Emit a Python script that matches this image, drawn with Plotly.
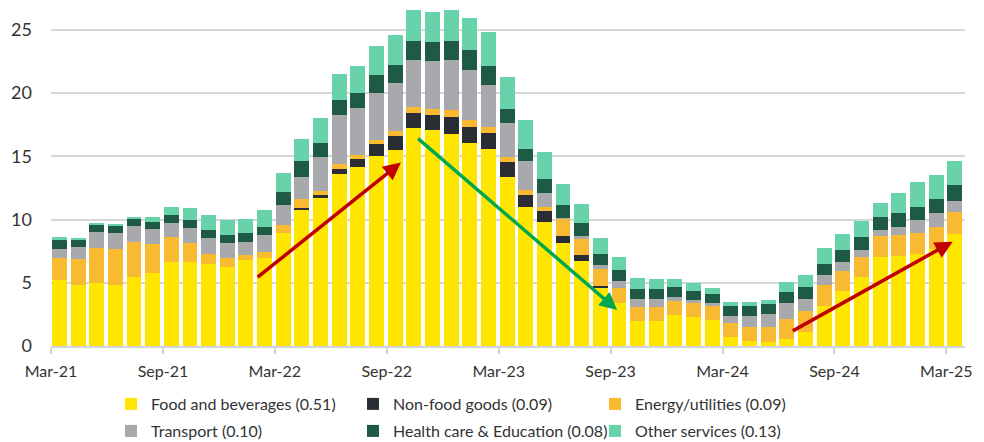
import plotly.graph_objects as go

months = ["Mar-21","Apr-21","May-21","Jun-21","Jul-21","Aug-21","Sep-21","Oct-21","Nov-21","Dec-21","Jan-22","Feb-22",
          "Mar-22","Apr-22","May-22","Jun-22","Jul-22","Aug-22","Sep-22","Oct-22","Nov-22","Dec-22","Jan-23","Feb-23",
          "Mar-23","Apr-23","May-23","Jun-23","Jul-23","Aug-23","Sep-23","Oct-23","Nov-23","Dec-23","Jan-24","Feb-24",
          "Mar-24","Apr-24","May-24","Jun-24","Jul-24","Aug-24","Sep-24","Oct-24","Nov-24","Dec-24","Jan-25","Feb-25","Mar-25"]

food = [5.22,4.80,4.95,4.80,5.43,5.80,6.67,6.61,6.48,6.22,6.80,6.93,
        8.96,10.80,11.67,13.62,14.17,15.04,15.49,17.26,17.05,16.78,16.07,15.55,
        13.33,10.96,9.83,8.17,6.74,4.56,3.37,1.98,1.98,2.45,2.32,2.06,
        0.74,0.42,0.34,0.55,1.11,3.19,4.35,5.45,7.06,7.11,7.27,7.70,8.85]
nonfood = [-0.08,-0.08,-0.08,-0.08,0,0,0,-0.08,0,0,-0.08,-0.08,
           0,0.13,0.29,0.37,0.58,0.90,1.11,1.18,1.24,1.32,1.27,1.31,
           1.22,0.98,0.87,0.55,0.45,0.21,0,-0.06,-0.06,-0.06,-0.06,-0.06,
           -0.06,-0.06,-0.06,-0.06,-0.06,-0.06,-0.06,-0.06,-0.06,-0.06,-0.06,-0.06,-0.06]
energy = [1.71,2.05,2.77,2.84,2.79,2.26,1.92,1.51,0.79,0.76,0.39,0.52,
          0.60,0.69,0.27,0.37,0.32,0.32,0.37,0.48,0.47,0.53,0.51,0.45,
          0.41,0.39,0.31,1.37,1.24,1.29,1.21,1.10,1.13,1.11,1.11,1.10,
          1.10,1.08,1.14,1.58,1.63,1.61,1.58,1.59,1.61,1.66,1.63,1.73,1.72]
transport = [0.76,1.00,1.29,1.26,1.27,1.22,1.16,1.24,1.29,1.14,1.03,1.30,
             1.56,1.71,2.73,3.90,3.77,3.71,3.80,3.68,3.77,3.98,3.97,3.32,
             2.64,2.32,1.05,0.06,0.27,0.34,0.58,0.66,0.63,0.34,0.18,0.24,
             0.56,0.85,1.08,1.27,1.00,0.79,0.68,0.55,0.50,0.66,1.06,1.06,0.89]
health = [0.69,0.58,0.63,0.66,0.58,0.55,0.61,0.60,0.61,0.65,0.68,0.68,
          1.08,1.27,1.11,1.19,1.18,1.45,1.44,1.54,1.50,1.50,1.55,1.53,
          1.14,0.95,1.11,1.00,1.05,0.87,0.84,0.79,0.79,0.76,0.76,0.74,
          0.79,0.84,0.76,0.87,0.92,0.89,0.95,1.05,0.99,1.11,1.05,1.13,1.27]
other = [0.26,0.08,0.02,0.02,0.15,0.39,0.65,0.97,1.19,1.19,1.14,1.32,
         1.44,1.76,1.93,2.02,2.14,2.32,2.37,2.42,2.40,2.45,2.56,2.66,
         2.50,2.24,2.14,1.66,1.48,1.24,1.00,0.82,0.74,0.66,0.58,0.44,
         0.31,0.29,0.32,0.79,0.95,1.24,1.27,1.24,1.14,1.53,1.92,1.90,1.89]

series_names = ["Food and beverages (0.51)", "Non-food goods (0.09)", "Energy/utilities (0.09)",
                "Transport (0.10)", "Health care & Education (0.08)", "Other services (0.13)"]
series_colors = ["#FFE600", "#2B2D35", "#F9B931", "#A8A9AD", "#1F5A45", "#68D2AB"]
series_values = [food, nonfood, energy, transport, health, other]

tick_idx = [0, 6, 12, 18, 24, 30, 36, 42, 48]
tick_labels = [months[i] for i in tick_idx]
y_ticks = [0, 5, 10, 15, 20, 25]

FONT = "Lato"
TXT = "#333333"

xpos = [i + 0.45 for i in range(len(months))]

fig = go.Figure()
for k, (name, col, vals) in enumerate(zip(series_names, series_colors, series_values)):
    fig.add_trace(go.Bar(
        x=xpos, y=vals, name=name, width=0.8,
        marker=dict(color=col, line=dict(width=0)),
        customdata=months, hovertemplate="%{customdata}: %{y}<extra>" + name + "</extra>",
        legend="legend" if k < 3 else "legend2",
    ))

# arrows (data coordinates)
arrows = [
    dict(x=18.76, y=14.5, ax=11.0, ay=5.35, color="#C00000"),
    dict(x=30.35, y=2.85, ax=19.6, ay=16.5, color="#00A84F"),
    dict(x=48.34, y=8.25, ax=39.69, ay=1.13, color="#C00000"),
]
for a in arrows:
    fig.add_annotation(x=a["x"], y=a["y"], ax=a["ax"], ay=a["ay"], xref="x", yref="y",
                       axref="x", ayref="y", showarrow=True, arrowhead=2, arrowsize=1,
                       arrowwidth=3.5, arrowcolor=a["color"], text="", standoff=0)

legend_common = dict(orientation="h", xref="container", yref="container", xanchor="left",
                     yanchor="middle", font=dict(family=FONT, size=16, color=TXT),
                     entrywidth=197, entrywidthmode="pixels", bgcolor="rgba(0,0,0,0)",
                     traceorder="normal", itemclick=False, itemdoubleclick=False)

fig.update_layout(
    width=984, height=442,
    margin=dict(l=51, r=18.5, t=5, b=96),
    paper_bgcolor="white", plot_bgcolor="white",
    barmode="relative", bargap=0,
    showlegend=True,
    legend=dict(x=111/984, y=1 - 404/442, **legend_common),
    legend2=dict(x=111/984, y=1 - 431/442, **legend_common),
    font=dict(family=FONT, color=TXT),
    xaxis=dict(range=[0, 49], tickvals=tick_idx, ticktext=tick_labels,
               showgrid=False, zeroline=False, showline=True, linecolor="#D3D3DB", linewidth=1.5,
               ticks="outside", ticklen=6, tickwidth=1.5, tickcolor="#D3D3DB",
               tickfont=dict(family=FONT, size=16, color=TXT), ticklabelstandoff=4),
    yaxis=dict(range=[0, 26.96], tickvals=y_ticks, showgrid=True, gridcolor="#D6D6DE", gridwidth=1.5,
               zeroline=False, showline=False, ticks="",
               tickfont=dict(family=FONT, size=18, color=TXT), ticklabelstandoff=18),
)

fig.write_html("out.html", config={"displayModeBar": False},
               post_script="document.body.style.margin='0';document.body.style.overflow='hidden';")
